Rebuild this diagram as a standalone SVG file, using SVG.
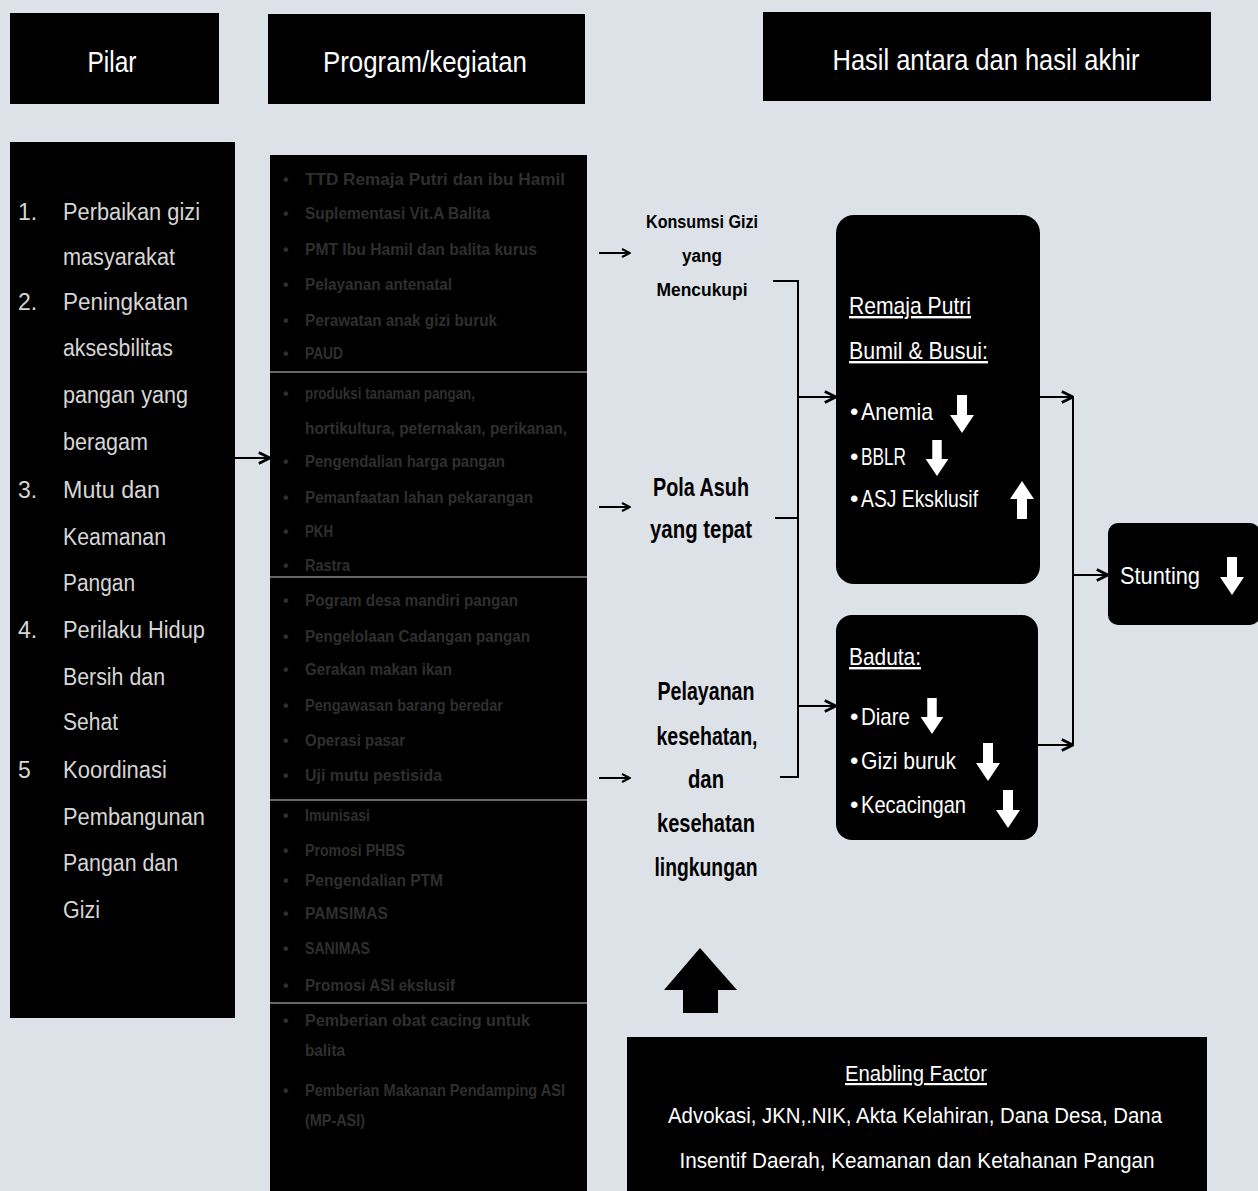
<svg xmlns="http://www.w3.org/2000/svg" width="1258" height="1191" viewBox="0 0 1258 1191">
<style>
.t{font-family:"Liberation Sans Narrow","Liberation Sans",sans-serif}
.hd{font-size:30px;fill:#fff}
.pl{font-size:23px;fill:#d6d6d6}
.pg{font-size:16px;font-weight:bold;fill:#2f2f2f}
.md{font-weight:bold;fill:#000;text-anchor:middle}
.bx{font-size:24px;fill:#fff}
.en{font-size:22px;fill:#fff;text-anchor:middle}
.ln{stroke:#000;stroke-width:2;fill:none}
.sep{stroke:#8a8a8a;stroke-width:1.5}
</style>
<defs>
<marker id="ah" viewBox="0 0 10 10" refX="9" refY="5" markerWidth="10" markerHeight="10" markerUnits="userSpaceOnUse" orient="auto">
<path d="M1,1 L9,5 L1,9" fill="none" stroke="#000" stroke-width="2"/>
</marker>
<marker id="ah2" viewBox="0 0 10 10" refX="9" refY="5" markerWidth="14" markerHeight="14" markerUnits="userSpaceOnUse" orient="auto">
<path d="M1,1 L9,5 L1,9" fill="none" stroke="#000" stroke-width="2"/>
</marker>
<symbol id="down" viewBox="0 0 24 38"><path d="M7,0 H17 V20 H24 L12,38 L0,20 H7 Z" fill="#fff"/></symbol>
<symbol id="up" viewBox="0 0 24 38"><path d="M7,38 H17 V18 H24 L12,0 L0,18 H7 Z" fill="#fff"/></symbol>
</defs>
<rect width="1258" height="1191" fill="#dde2e8"/>

<g id="hdr-pilar"><rect x="10" y="13" width="209" height="91" fill="#000"/><text class="t hd" x="112" y="72" text-anchor="middle" textLength="49" lengthAdjust="spacingAndGlyphs">Pilar</text></g>
<g id="hdr-program"><rect x="268" y="14" width="317" height="90" fill="#000"/><text class="t hd" x="425" y="72" text-anchor="middle" textLength="204" lengthAdjust="spacingAndGlyphs">Program/kegiatan</text></g>
<g id="hdr-hasil"><rect x="763" y="12" width="448" height="89" fill="#000"/><text class="t hd" x="986" y="70" text-anchor="middle" textLength="307" lengthAdjust="spacingAndGlyphs">Hasil antara dan hasil akhir</text></g>

<g id="pilar">
<rect x="10" y="142" width="225" height="876" fill="#000"/>
<g class="t pl">
<text x="18" y="220">1.</text><text x="63" y="220" textLength="137" lengthAdjust="spacingAndGlyphs">Perbaikan gizi</text>
<text x="63" y="265" textLength="112" lengthAdjust="spacingAndGlyphs">masyarakat</text>
<text x="18" y="310">2.</text><text x="63" y="310" textLength="125" lengthAdjust="spacingAndGlyphs">Peningkatan</text>
<text x="63" y="356" textLength="110" lengthAdjust="spacingAndGlyphs">aksesbilitas</text>
<text x="63" y="403" textLength="125" lengthAdjust="spacingAndGlyphs">pangan yang</text>
<text x="63" y="450" textLength="85" lengthAdjust="spacingAndGlyphs">beragam</text>
<text x="18" y="498">3.</text><text x="63" y="498" textLength="97" lengthAdjust="spacingAndGlyphs">Mutu dan</text>
<text x="63" y="545" textLength="103" lengthAdjust="spacingAndGlyphs">Keamanan</text>
<text x="63" y="591" textLength="72" lengthAdjust="spacingAndGlyphs">Pangan</text>
<text x="18" y="638">4.</text><text x="63" y="638" textLength="142" lengthAdjust="spacingAndGlyphs">Perilaku Hidup</text>
<text x="63" y="685" textLength="102" lengthAdjust="spacingAndGlyphs">Bersih dan</text>
<text x="63" y="730" textLength="55" lengthAdjust="spacingAndGlyphs">Sehat</text>
<text x="18" y="778">5</text><text x="63" y="778" textLength="104" lengthAdjust="spacingAndGlyphs">Koordinasi</text>
<text x="63" y="825" textLength="142" lengthAdjust="spacingAndGlyphs">Pembangunan</text>
<text x="63" y="871" textLength="115" lengthAdjust="spacingAndGlyphs">Pangan dan</text>
<text x="63" y="918" textLength="37" lengthAdjust="spacingAndGlyphs">Gizi</text>
</g>
</g>

<g id="program">
<rect x="270" y="155" width="317" height="1036" fill="#000"/>
<line class="sep" x1="270" y1="372" x2="587" y2="372"/>
<line class="sep" x1="270" y1="577" x2="587" y2="577"/>
<line class="sep" x1="270" y1="800" x2="587" y2="800"/>
<line class="sep" x1="270" y1="1003" x2="587" y2="1003"/>
<g class="t pg">
<text x="283" y="185">•</text><text x="305" y="185" textLength="260" lengthAdjust="spacingAndGlyphs">TTD Remaja Putri dan ibu Hamil</text>
<text x="283" y="219">•</text><text x="305" y="219" textLength="185" lengthAdjust="spacingAndGlyphs">Suplementasi Vit.A Balita</text>
<text x="283" y="255">•</text><text x="305" y="255" textLength="232" lengthAdjust="spacingAndGlyphs">PMT Ibu Hamil dan balita kurus</text>
<text x="283" y="290">•</text><text x="305" y="290" textLength="147" lengthAdjust="spacingAndGlyphs">Pelayanan antenatal</text>
<text x="283" y="326">•</text><text x="305" y="326" textLength="192" lengthAdjust="spacingAndGlyphs">Perawatan anak gizi buruk</text>
<text x="283" y="359">•</text><text x="305" y="359" textLength="38" lengthAdjust="spacingAndGlyphs">PAUD</text>

<text x="283" y="399">•</text><text x="305" y="399" textLength="170" lengthAdjust="spacingAndGlyphs">produksi tanaman pangan,</text>
<text x="305" y="434" textLength="262" lengthAdjust="spacingAndGlyphs">hortikultura, peternakan, perikanan,</text>
<text x="283" y="467">•</text><text x="305" y="467" textLength="200" lengthAdjust="spacingAndGlyphs">Pengendalian harga pangan</text>
<text x="283" y="503">•</text><text x="305" y="503" textLength="228" lengthAdjust="spacingAndGlyphs">Pemanfaatan lahan pekarangan</text>
<text x="283" y="537">•</text><text x="305" y="537" textLength="28" lengthAdjust="spacingAndGlyphs">PKH</text>
<text x="283" y="571">•</text><text x="305" y="571" textLength="45" lengthAdjust="spacingAndGlyphs">Rastra</text>

<text x="283" y="606">•</text><text x="305" y="606" textLength="213" lengthAdjust="spacingAndGlyphs">Pogram desa mandiri pangan</text>
<text x="283" y="642">•</text><text x="305" y="642" textLength="225" lengthAdjust="spacingAndGlyphs">Pengelolaan Cadangan pangan</text>
<text x="283" y="675">•</text><text x="305" y="675" textLength="147" lengthAdjust="spacingAndGlyphs">Gerakan makan ikan</text>
<text x="283" y="711">•</text><text x="305" y="711" textLength="198" lengthAdjust="spacingAndGlyphs">Pengawasan barang beredar</text>
<text x="283" y="746">•</text><text x="305" y="746" textLength="100" lengthAdjust="spacingAndGlyphs">Operasi pasar</text>
<text x="283" y="781">•</text><text x="305" y="781" textLength="137" lengthAdjust="spacingAndGlyphs">Uji mutu pestisida</text>

<text x="283" y="821">•</text><text x="305" y="821" textLength="65" lengthAdjust="spacingAndGlyphs">Imunisasi</text>
<text x="283" y="856">•</text><text x="305" y="856" textLength="100" lengthAdjust="spacingAndGlyphs">Promosi PHBS</text>
<text x="283" y="886">•</text><text x="305" y="886" textLength="138" lengthAdjust="spacingAndGlyphs">Pengendalian PTM</text>
<text x="283" y="919">•</text><text x="305" y="919" textLength="83" lengthAdjust="spacingAndGlyphs">PAMSIMAS</text>
<text x="283" y="954">•</text><text x="305" y="954" textLength="65" lengthAdjust="spacingAndGlyphs">SANIMAS</text>
<text x="283" y="991">•</text><text x="305" y="991" textLength="150" lengthAdjust="spacingAndGlyphs">Promosi ASI ekslusif</text>

<text x="283" y="1026">•</text><text x="305" y="1026" textLength="225" lengthAdjust="spacingAndGlyphs">Pemberian obat cacing untuk</text>
<text x="305" y="1056" textLength="40" lengthAdjust="spacingAndGlyphs">balita</text>
<text x="283" y="1096">•</text><text x="305" y="1096" textLength="260" lengthAdjust="spacingAndGlyphs">Pemberian Makanan Pendamping ASI</text>
<text x="305" y="1126" textLength="60" lengthAdjust="spacingAndGlyphs">(MP-ASI)</text>
</g>
</g>

<g id="konsumsi" class="t md">
<text x="702" y="228" font-size="18" textLength="112" lengthAdjust="spacingAndGlyphs">Konsumsi Gizi</text>
<text x="702" y="262" font-size="18" textLength="40" lengthAdjust="spacingAndGlyphs">yang</text>
<text x="702" y="296" font-size="18" textLength="91" lengthAdjust="spacingAndGlyphs">Mencukupi</text>
</g>
<g id="pola-asuh" class="t md">
<text x="701" y="496" font-size="25" textLength="96" lengthAdjust="spacingAndGlyphs">Pola Asuh</text>
<text x="701" y="538" font-size="25" textLength="102" lengthAdjust="spacingAndGlyphs">yang tepat</text>
</g>
<g id="pelayanan" class="t md">
<text x="706" y="700" font-size="25" textLength="97" lengthAdjust="spacingAndGlyphs">Pelayanan</text>
<text x="707" y="745" font-size="25" textLength="101" lengthAdjust="spacingAndGlyphs">kesehatan,</text>
<text x="706" y="788" font-size="25" textLength="36" lengthAdjust="spacingAndGlyphs">dan</text>
<text x="706" y="832" font-size="25" textLength="98" lengthAdjust="spacingAndGlyphs">kesehatan</text>
<text x="706" y="876" font-size="25" textLength="103" lengthAdjust="spacingAndGlyphs">lingkungan</text>
</g>

<g id="remaja">
<rect x="836" y="215" width="204" height="369" rx="18" fill="#000"/>
<g class="t bx">
<text x="849" y="314" text-decoration="underline" textLength="122" lengthAdjust="spacingAndGlyphs">Remaja Putri</text>
<text x="849" y="359" text-decoration="underline" textLength="139" lengthAdjust="spacingAndGlyphs">Bumil &amp; Busui:</text>
<text x="850" y="420">•</text><text x="861" y="420" textLength="72" lengthAdjust="spacingAndGlyphs">Anemia</text>
<text x="850" y="465">•</text><text x="861" y="465" textLength="45" lengthAdjust="spacingAndGlyphs">BBLR</text>
<text x="850" y="507">•</text><text x="861" y="507" textLength="117" lengthAdjust="spacingAndGlyphs">ASJ Eksklusif</text>
</g>
<use href="#down" x="950" y="395" width="24" height="38"/>
<use href="#down" x="925" y="440" width="24" height="36"/>
<use href="#up" x="1010" y="480" width="24" height="40"/>
</g>

<g id="baduta">
<rect x="836" y="615" width="202" height="225" rx="16" fill="#000"/>
<g class="t bx">
<text x="849" y="665" text-decoration="underline" textLength="72" lengthAdjust="spacingAndGlyphs">Baduta:</text>
<text x="850" y="725">•</text><text x="861" y="725" textLength="49" lengthAdjust="spacingAndGlyphs">Diare</text>
<text x="850" y="769">•</text><text x="861" y="769" textLength="95" lengthAdjust="spacingAndGlyphs">Gizi buruk</text>
<text x="850" y="813">•</text><text x="861" y="813" textLength="105" lengthAdjust="spacingAndGlyphs">Kecacingan</text>
</g>
<use href="#down" x="920" y="698" width="24" height="36"/>
<use href="#down" x="976" y="743" width="24" height="38"/>
<use href="#down" x="996" y="790" width="24" height="38"/>
</g>

<g id="stunting">
<rect x="1108" y="523" width="152" height="102" rx="10" fill="#000"/>
<text class="t bx" x="1120" y="584" textLength="80" lengthAdjust="spacingAndGlyphs">Stunting</text>
<use href="#down" x="1220" y="557" width="24" height="38"/>
</g>

<g id="enabling">
<rect x="627" y="1037" width="580" height="154" fill="#000"/>
<text class="t en" x="916" y="1081" text-decoration="underline" textLength="142" lengthAdjust="spacingAndGlyphs">Enabling Factor</text>
<text class="t en" x="915" y="1123" textLength="494" lengthAdjust="spacingAndGlyphs">Advokasi, JKN,.NIK, Akta Kelahiran, Dana Desa, Dana</text>
<text class="t en" x="917" y="1168" textLength="475" lengthAdjust="spacingAndGlyphs">Insentif Daerah, Keamanan dan Ketahanan Pangan</text>
</g>

<g id="connectors">
<line class="ln" x1="235" y1="458" x2="270" y2="458" stroke-width="3" marker-end="url(#ah2)"/>
<line class="ln" x1="599" y1="253" x2="630" y2="253" marker-end="url(#ah)"/>
<line class="ln" x1="599" y1="507" x2="630" y2="507" marker-end="url(#ah)"/>
<line class="ln" x1="599" y1="778" x2="630" y2="778" marker-end="url(#ah)"/>
<path class="ln" d="M773,281 H798 V777 H780"/>
<line class="ln" x1="775" y1="518" x2="798" y2="518"/>
<line class="ln" x1="798" y1="397" x2="836" y2="397" marker-end="url(#ah2)"/>
<line class="ln" x1="798" y1="706" x2="836" y2="706" marker-end="url(#ah2)"/>
<line class="ln" x1="1040" y1="397" x2="1073" y2="397" marker-end="url(#ah2)"/>
<line class="ln" x1="1038" y1="745" x2="1073" y2="745" marker-end="url(#ah2)"/>
<line class="ln" x1="1073" y1="397" x2="1073" y2="745"/>
<line class="ln" x1="1073" y1="575" x2="1108" y2="575" marker-end="url(#ah2)"/>
<path d="M700,948 L737,990 H718 V1013 H683 V990 H664 Z" fill="#000"/>
</g>
</svg>
